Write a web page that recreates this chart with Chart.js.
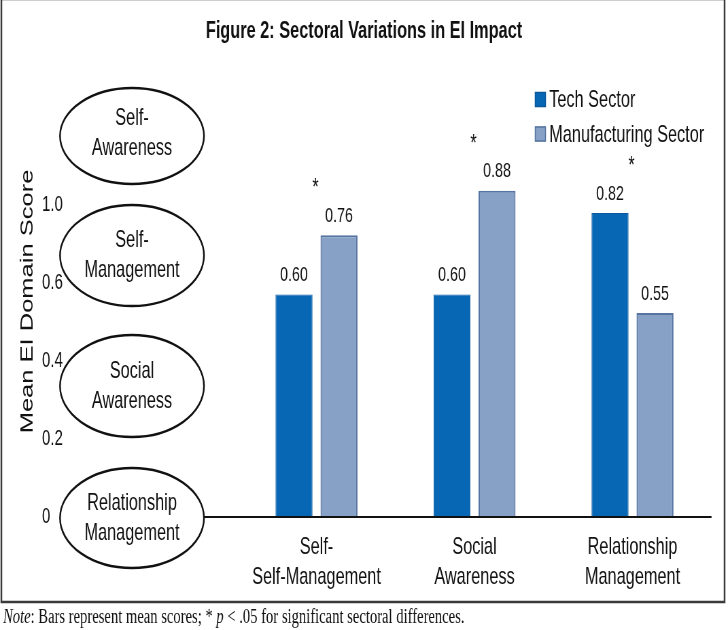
<!DOCTYPE html>
<html>
<head>
<meta charset="utf-8">
<script src="https://cdn.jsdelivr.net/npm/chart.js@4.4.1/dist/chart.umd.min.js"></script>
<style>
  html, body { margin: 0; padding: 0; background: #fff; overflow: hidden; }
  /* the source figure is a horizontally squeezed render: draw wide, squeeze to 728 */
  #wrap { width: 1071px; height: 630px; position: relative; transform: scaleX(0.6797); transform-origin: 0 0; }
</style>
</head>
<body>
<div id="wrap"><canvas id="c"></canvas></div>
<script>
// Figure 2 — sectoral EI bar chart, bubbles + notes drawn by a small plugin.
const categories = [["Self-", "Self-Management"], ["Social", "Awareness"], ["Relationship", "Management"]];
const techScores = [0.60, 0.60, 0.82];
const mfgScores = [0.76, 0.88, 0.55];
const significant = [true, true, true];
const tickValues = [0, 0.2, 0.4, 0.6, 0.8];
const tickLabels = ["0", "0.2", "0.4", "0.6", "1.0"];
const bubbleLabels = [["Self-", "Awareness"], ["Self-", "Management"], ["Social", "Awareness"], ["Relationship", "Management"]];
const TITLE = "Figure 2: Sectoral Variations in EI Impact";
const Y_TITLE = "Mean EI Domain Score";
const NOTE = [["Note", true], [": Bars represent mean scores; * ", false], ["p", true], [" < .05 for significant sectoral differences.", false]];

const SANS = "'Liberation Sans', Arial, sans-serif";
const INK = "#111";
const TECH = "#0767b5", TECH_EDGE = "#0b589c", MFG = "#87a0c6", MFG_EDGE = "#55749f";
const bubbleSpots = [{cy: 136, ry: 48}, {cy: 255.5, ry: 50.5}, {cy: 386, ry: 51}, {cy: 518, ry: 50}];
const BX = 194.2, BRX = 105.9;

const decor = {
  id: "decor",
  afterLayout(chart) {
    // tick labels sit left-aligned inside the bubble column
    const s = chart.scales.y2;
    s.left = 61.8; s.width = s.right - s.left;
  },
  beforeDraw(chart) {
    const ctx = chart.ctx;
    ctx.save();
    ctx.fillStyle = "#fff";
    ctx.fillRect(0, 0, chart.width, chart.height);
    ctx.restore();
  },
  afterDatasetsDraw(chart) {
    const {ctx, scales: {x, y}, chartArea} = chart;
    ctx.save();
    // baseline runs from the last bubble to the right edge
    const y0 = y.getPixelForValue(0);
    ctx.strokeStyle = INK; ctx.lineWidth = 2;
    ctx.beginPath(); ctx.moveTo(BX + BRX, y0); ctx.lineTo(chartArea.right, y0); ctx.stroke();

    // value labels
    ctx.font = "21px " + SANS; ctx.fillStyle = INK;
    ctx.textAlign = "center"; ctx.textBaseline = "middle";
    chart.data.datasets.forEach((ds, di) => {
      chart.getDatasetMeta(di).data.forEach((bar, i) => ctx.fillText(ds.data[i].toFixed(2), bar.x, bar.y - 19));
    });

    // significance stars
    ctx.font = "24px " + SANS;
    ctx.textBaseline = "alphabetic";
    significant.forEach((s, i) => {
      if (!s) return;
      const top = Math.min(...chart.data.datasets.map((d, di) => chart.getDatasetMeta(di).data[i].y));
      ctx.fillText("*", x.getPixelForValue(i) - 1.5, top - 40);
    });
    ctx.restore();
  },
  afterDraw(chart) {
    const ctx = chart.ctx;
    ctx.save();
    // domain bubbles
    ctx.strokeStyle = INK; ctx.lineWidth = 2.4;
    ctx.font = "24px " + SANS; ctx.fillStyle = INK;
    ctx.textAlign = "center"; ctx.textBaseline = "middle";
    bubbleSpots.forEach((b, i) => {
      ctx.beginPath(); ctx.ellipse(BX, b.cy, BRX, b.ry, 0, 0, Math.PI * 2); ctx.stroke();
      const off = i === 0 ? -3 : 0;
      ctx.fillText(bubbleLabels[i][0], BX, b.cy - 15 + off);
      ctx.fillText(bubbleLabels[i][1], BX, b.cy + 15 + off);
    });

    // legend
    ctx.textAlign = "left";
    chart.data.datasets.forEach((ds, i) => {
      const cy = 99.5 + i * 34.5;
      ctx.fillStyle = ds.backgroundColor; ctx.fillRect(787, cy - 7.5, 16, 15);
      ctx.strokeStyle = ds.borderColor; ctx.lineWidth = 1.5; ctx.strokeRect(787.5, cy - 7, 15, 14);
      ctx.fillStyle = INK; ctx.fillText(ds.label, 808, cy + 1);
    });

    // y title
    ctx.save();
    ctx.translate(41.2, 301.5); ctx.rotate(-Math.PI / 2);
    ctx.font = "25.5px " + SANS;
    ctx.textAlign = "center"; ctx.fillText(Y_TITLE, 0, 0);
    ctx.restore();

    // frame
    ctx.strokeStyle = "#3a3a3a"; ctx.lineWidth = 2.5;
    ctx.strokeRect(2, -1, 1064, 603);

    // note
    ctx.save();
    ctx.textBaseline = "alphabetic"; ctx.textAlign = "left";
    const fontOf = it => (it ? "italic " : "") + "20px 'Liberation Serif', 'Times New Roman', serif";
    let total = 0;
    NOTE.forEach(([t, it]) => { ctx.font = fontOf(it); total += ctx.measureText(t).width; });
    ctx.translate(4.4, 623); ctx.scale(679 / total, 1);
    let cx = 0;
    NOTE.forEach(([t, it]) => { ctx.font = fontOf(it); ctx.fillText(t, cx, 0); cx += ctx.measureText(t).width; });
    ctx.restore();

    ctx.restore();
  }
};

new Chart(document.getElementById("c"), {
  type: "bar",
  data: {
    labels: categories,
    datasets: [
      {label: "Tech Sector", data: techScores, backgroundColor: TECH, borderColor: TECH_EDGE, borderWidth: 1, yAxisID: "y"},
      {label: "Manufacturing Sector", data: mfgScores, backgroundColor: MFG, borderColor: MFG_EDGE, borderWidth: 2, yAxisID: "y"}
    ]
  },
  options: {
    responsive: true, maintainAspectRatio: false, animation: false, devicePixelRatio: 1,
    layout: {padding: {left: 24.2, right: 24.2, top: 0, bottom: 38}},
    datasets: {bar: {categoryPercentage: 0.5696, barPercentage: 0.822}},
    plugins: {
      legend: {display: false},
      tooltip: {enabled: false},
      title: {display: true, text: TITLE, color: INK,
        font: {family: SANS, size: 24, weight: "bold", lineHeight: 1.2},
        padding: {top: 16.6, bottom: 26.6}}
    },
    scales: {
      x: {
        grid: {display: false, drawTicks: false}, border: {display: false},
        ticks: {color: INK, font: {family: SANS, size: 24, lineHeight: 1.25}, padding: 15, maxRotation: 0, autoSkip: false},
        afterFit(s) { s.height = 75; }
      },
      y: {display: false, min: 0, max: 1.2},
      y2: {
        position: "left", min: 0, max: 1.141,
        grid: {display: false, drawTicks: false}, border: {display: false},
        afterBuildTicks(s) { s.ticks = tickValues.map(v => ({value: v})); },
        ticks: {color: INK, font: {family: SANS, size: 22}, crossAlign: "far", padding: 8, callback: (v, i) => tickLabels[i]},
        afterFit(s) { s.width = 325.2; s.paddingTop = 0; s.paddingBottom = 0; }
      }
    }
  },
  plugins: [decor]
});
</script>
</body>
</html>
